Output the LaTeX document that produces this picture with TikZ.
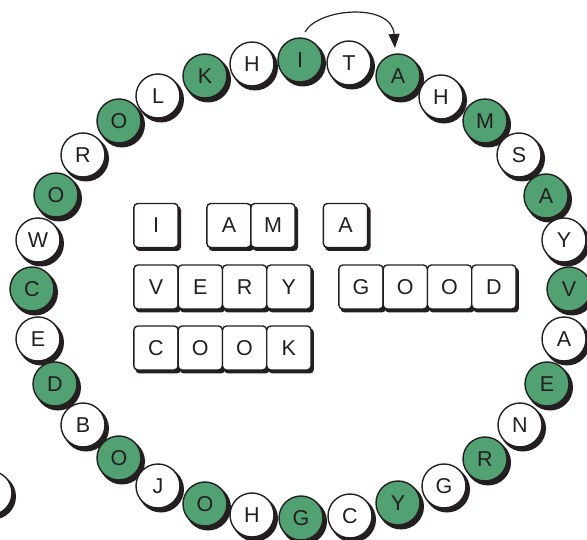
\documentclass[tikz,border=0pt]{standalone}
\usepackage{fontspec}
\setmainfont{Liberation Sans}
\usetikzlibrary{arrows.meta}
\definecolor{tokgreen}{RGB}{82,161,115}
\definecolor{ink}{RGB}{35,31,32}
\begin{document}
\begin{tikzpicture}[x=1pt,y=-1pt,
  token/.style={circle,draw=ink,line width=1.4pt,minimum size=44pt,inner sep=0pt,
    font=\fontsize{21.5}{22}\selectfont,text=ink},
  gtok/.style={token,fill=tokgreen},
  wtok/.style={token,fill=white},
  key/.style={rectangle,rounded corners=4pt,draw=ink,line width=1.4pt,fill=white,
    minimum width=44.3pt,minimum height=44pt,inner sep=0pt,
    font=\fontsize{21.5}{22}\selectfont,text=ink},
  keyshadow/.style={fill=ink,rounded corners=4pt},
  turn/.style={-{Triangle[length=14pt,width=11pt]},line width=1.2pt,draw=ink}]
\useasboundingbox (0,0) rectangle (587,540);
\def\tokens{300/60/I/g, 349/63/T/w, 398/76/A/g, 441/97/H/w, 485/121/M/g, 519/155/S/w,
  546/196/A/g, 564/240/Y/w, 569/289/V/g, 564/339/A/w, 547/384/E/g, 520/425/N/w,
  485/459/R/g, 444/486/G/w, 398/503/Y/g, 350/516/C/w, 301/518/G/g, 252/515/H/w,
  205/504/O/g, 158/486/J/w, 119/458/O/g, 83/425/B/w, 55/384/D/g, 38/339/E/w,
  32/289/C/g, 38/240/W/w, 56/195/O/g, 83/155/R/w, 119/121/O/g, 158/96/L/w,
  205/76/K/g, 252/64/H/w}
% shadows
\fill[ink] (-7,496.5) circle (23);
\foreach \x/\y/\l/\c in \tokens { \fill[ink] (\x+3,\y+3.5) circle (23); }
% tokens
\node[wtok] (t0) at (-10,493) {};
\foreach \x/\y/\l/\c [count=\i] in \tokens { \node[\c tok] (t\i) at (\x,\y) {\l}; }
% keys
\def\keys{156/225.5/I, 229/225.5/A, 273/225.5/M, 345.5/225.5/A,
  156/287/V, 200.3/287/E, 244.6/287/R, 288.9/287/Y,
  361/287/G, 405.3/287/O, 449.6/287/O, 493.9/287/D,
  156/348/C, 200.3/348/O, 244.6/348/O, 288.9/348/K}
\foreach \x/\y/\l in \keys { \fill[keyshadow] (\x-20.5,\y-19.5) rectangle (\x+25,\y+25.5); }
\foreach \x/\y/\l [count=\i] in \keys { \node[key] (k\i) at (\x,\y) {\l}; }
% arrow
\coordinate (arrS) at (305,32);
\coordinate (arrE) at (395,48);
\draw[turn] (arrS) .. controls (318,8) and (392,2) .. (arrE);
\end{tikzpicture}
\end{document}
